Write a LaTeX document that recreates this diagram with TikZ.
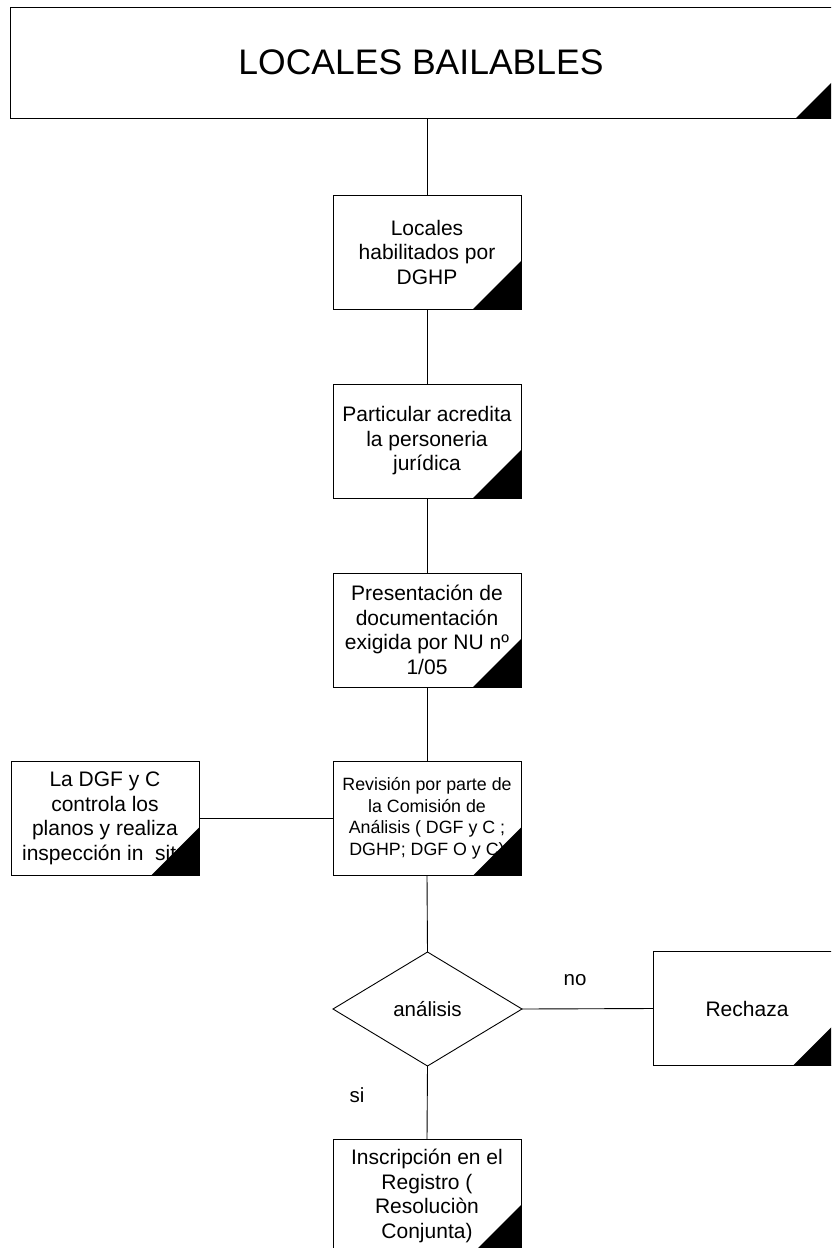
\documentclass[tikz,border=0pt]{standalone}
\usepackage{fontspec}
\setmainfont{Liberation Sans}
\usetikzlibrary{shapes.geometric}

\tikzset{
  stepbox/.style={draw, rectangle, line width=0.9pt, inner sep=0pt, outer sep=0pt,
    minimum width=188pt, minimum height=114pt, align=center,
    font=\fontsize{21}{24.5}\selectfont},
  smalltext/.style={font=\fontsize{17.8}{21.5}\selectfont},
  decision/.style={draw, diamond, line width=0.9pt, inner sep=0pt, outer sep=0pt,
    minimum width=189pt, minimum height=114pt,
    font=\fontsize{20.5}{24.5}\selectfont},
  link/.style={line width=0.9pt},
  lbl/.style={font=\fontsize{20.5}{24.5}\selectfont, inner sep=0pt},
  corner/.style={fill=black}
}

\begin{document}
\begin{tikzpicture}[x=1pt, y=-1pt]
  \useasboundingbox (0,0) rectangle (831,1248);
  \clip (0,0) rectangle (831,1248);
  \fill[white] (0,0) rectangle (831,1248);

  % title banner
  \node[draw, rectangle, line width=0.9pt, inner sep=0pt, outer sep=0pt,
        minimum width=822pt, minimum height=111pt,
        font=\fontsize{35.5}{40}\selectfont] (title) at (421,62.5) {LOCALES BAILABLES};

  % main column
  \node[stepbox] (b1) at (427,252) {Locales\\habilitados por\\DGHP};
  \node[stepbox] (b2) at (427,441) {Particular acredita\\la personeria\\jurídica};
  \node[stepbox] (b3) at (427,630) {Presentación de\\documentación\\exigida por NU nº\\1/05};
  \node[stepbox, smalltext] (b4) at (427,818.5)
    {Revisión por parte de\\la Comisión de\\Análisis ( DGF y C ;\\DGHP; DGF O y C)};
  \node[stepbox] (side) at (105,818.5)
    {La DGF y C\\controla los\\planos y realiza\\inspección in\ \ situ};
  \node[decision] (dec) at (427.5,1009) {análisis};
  \node[stepbox] (rej) at (747,1008.5) {Rechaza};
  \node[stepbox] (fin) at (427,1196) {Inscripción en el\\Registro (\\Resoluciòn\\Conjunta)};

  % connectors
  \draw[link] (title.south -| b1.north) -- (b1.north);
  \draw[link] (b1.south) -- (b2.north);
  \draw[link] (b2.south) -- (b3.north);
  \draw[link] (b3.south) -- (b4.north);
  \draw[link] (b4.south) -- (dec.north);
  \draw[link] (side.east) -- (b4.west);
  \draw[link] (dec.east) -- (rej.west);
  \draw[link] (dec.south) -- (fin.north);

  % branch labels
  \node[lbl] (lno) at (575,980) {no};
  \node[lbl] (lsi) at (357,1095) {si};

  % black corner marks
  \fill[corner] (title.south east) -- ++(-36,0) -- ++(36,-36) -- cycle;
  \foreach \n in {b1,b2,b3,b4,side,rej,fin}
    \fill[corner] (\n.south east) -- ++(-48,0) -- ++(48,-48) -- cycle;
\end{tikzpicture}
\end{document}
